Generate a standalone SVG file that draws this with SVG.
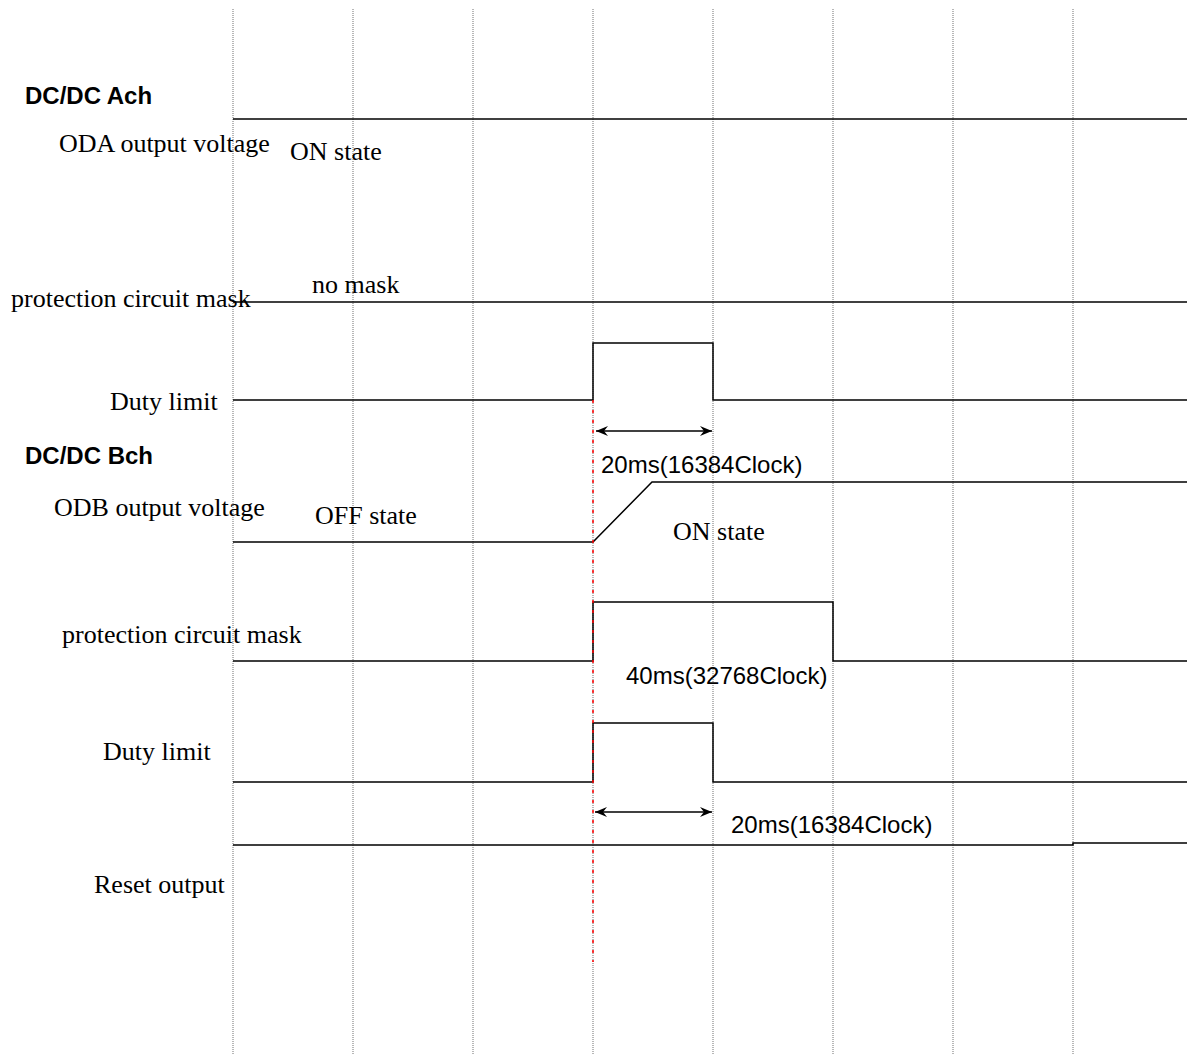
<svg xmlns="http://www.w3.org/2000/svg" width="1187" height="1055" viewBox="0 0 1187 1055">
<defs>
<style>
.grid{stroke:#707070;stroke-width:1;stroke-dasharray:1 1;fill:none}
.sig{stroke:#000;stroke-width:1.5;fill:none}
.red{stroke:#ff0000;stroke-width:1.5;stroke-dasharray:3 7;fill:none}
.ser{font-family:"Liberation Serif","Times New Roman",serif;font-size:26px;fill:#000}
.sans{font-family:"Liberation Sans",Arial,sans-serif;font-size:24px;fill:#000}
.hdr{font-family:"Liberation Sans",Arial,sans-serif;font-size:24px;font-weight:bold;fill:#000}
.arr{stroke:#000;stroke-width:1.5;fill:none;marker-start:url(#ah);marker-end:url(#ah)}
</style>
<marker id="ah" viewBox="0 0 12 10" refX="12" refY="5" markerWidth="12" markerHeight="10" markerUnits="userSpaceOnUse" orient="auto-start-reverse">
<path d="M0,0 L12,5 L0,10 L4,5 Z" fill="#000"/>
</marker>
</defs>
<rect width="1187" height="1055" fill="#fff"/>
<g id="grid">
<line class="grid" x1="233" y1="9" x2="233" y2="1055"/>
<line class="grid" x1="353" y1="9" x2="353" y2="1055"/>
<line class="grid" x1="473" y1="9" x2="473" y2="1055"/>
<line class="grid" x1="593" y1="9" x2="593" y2="1055"/>
<line class="grid" x1="713" y1="9" x2="713" y2="1055"/>
<line class="grid" x1="833" y1="9" x2="833" y2="1055"/>
<line class="grid" x1="953" y1="9" x2="953" y2="1055"/>
<line class="grid" x1="1073" y1="9" x2="1073" y2="1055"/>
</g>
<g id="labels">
<text class="hdr" x="25" y="104">DC/DC Ach</text>
<text class="ser" x="59" y="152">ODA output voltage</text>
<text class="ser" x="290" y="160">ON state</text>
<text class="ser" x="312" y="293">no mask</text>
<text class="ser" x="11" y="307">protection circuit mask</text>
<text class="ser" x="110" y="410">Duty limit</text>
<text class="hdr" x="25" y="464">DC/DC Bch</text>
<text class="ser" x="54" y="516">ODB output voltage</text>
<text class="ser" x="315" y="524">OFF state</text>
<text class="ser" x="673" y="540">ON state</text>
<text class="ser" x="62" y="643">protection circuit mask</text>
<text class="ser" x="103" y="760">Duty limit</text>
<text class="ser" x="94" y="893">Reset output</text>
<text class="sans" x="601" y="473">20ms(16384Clock)</text>
<text class="sans" x="626" y="684">40ms(32768Clock)</text>
<text class="sans" x="731" y="833">20ms(16384Clock)</text>
</g>
<g id="signals">
<polyline id="oda" class="sig" points="233,119 1187,119"/>
<polyline id="maskA" class="sig" points="233,302 1187,302"/>
<polyline id="dutyA" class="sig" points="233,400 593,400 593,343 713,343 713,400 1187,400"/>
<polyline id="odb" class="sig" points="233,542 593,542 652,482 1187,482"/>
<polyline id="maskB" class="sig" points="233,661 593,661 593,602 833,602 833,661 1187,661"/>
<polyline id="dutyB" class="sig" points="233,782 593,782 593,723 713,723 713,782 1187,782"/>
<polyline id="reset" class="sig" points="233,845 1073,845 1073,843 1187,843"/>
</g>
<g id="connectors">
<line class="red" x1="593" y1="400" x2="593" y2="962"/>
<line class="arr" x1="596" y1="431" x2="712" y2="431"/>
<line class="arr" x1="595" y1="812" x2="712" y2="812"/>
</g>
</svg>
